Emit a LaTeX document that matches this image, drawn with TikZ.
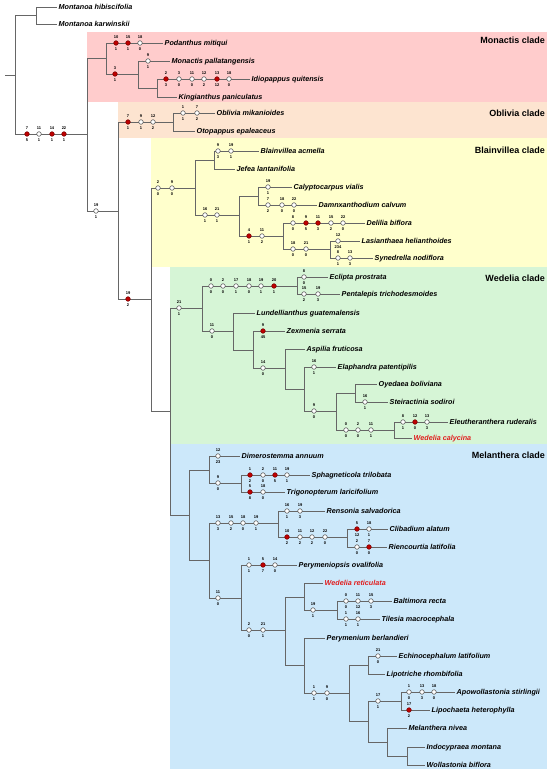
\documentclass[tikz,border=0pt]{standalone}
\usepackage{fontspec}
\setmainfont{Liberation Sans}

\definecolor{cladepink}{RGB}{255,204,204}
\definecolor{cladepeach}{RGB}{253,228,208}
\definecolor{cladeyellow}{RGB}{255,255,204}
\definecolor{cladegreen}{RGB}{214,245,214}
\definecolor{cladeblue}{RGB}{204,232,250}
\definecolor{apored}{RGB}{192,0,0}
\definecolor{wred}{RGB}{225,30,30}

% character marks along one branch: name, y, list of x/above/below/style
\newcommand{\charmarks}[3]{%
  \foreach \mx/\mt/\mb/\ms [count=\mi] in {#3}
    \node[\ms, label={[num]above:\mt}, label={[num]below:\mb}] (#1-\mi) at (\mx,#2) {};%
}

\begin{document}
\begin{tikzpicture}[
        x=1pt, y=-1pt,
        branch/.style={draw=black!60, line width=0.8pt},
        taxon/.style={
            anchor=west,
            inner sep=1.5pt,
            font=\fontsize{7.2}{8}\selectfont\bfseries\itshape,
            text height=5.2pt,
            text depth=1.2pt
        },
        clade/.style={anchor=east, inner sep=0pt, font=\fontsize{9}{10}\selectfont\bfseries},
        num/.style={inner sep=0.4pt, label distance=1.6pt, font=\fontsize{4}{4}\selectfont\bfseries},
        hom/.style={circle, draw=black!70, fill=white, line width=0.5pt, minimum size=4.6pt, inner sep=0pt},
        apo/.style={hom, draw=apored!60!black, fill=apored}
    ]

    \useasboundingbox (0,0) rectangle (550,774);

    % clade backgrounds
    \fill[cladepink] (87,32) rectangle (547,102);
    \fill[cladepeach] (118,102) rectangle (547,138);
    \fill[cladeyellow] (151,138) rectangle (547,267);
    \fill[cladegreen] (170,267) rectangle (547,444);
    \fill[cladeblue] (170,444) rectangle (547,769);

    \node[clade] (monactis) at (545,40) {Monactis clade};
    \node[clade] (oblivia) at (545,113) {Oblivia clade};
    \node[clade] (blainvillea) at (545,150) {Blainvillea clade};
    \node[clade] (wedelia) at (545,278) {Wedelia clade};
    \node[clade] (melanthera) at (545,455) {Melanthera clade};

    % internal nodes
    \coordinate (stub) at (5,75);
    \coordinate (root) at (15,75);
    \coordinate (mon) at (36,15.5);
    \coordinate (ing) at (87,134);
    \coordinate (mnc) at (106,58.5);
    \coordinate (mnc2) at (138,74);
    \coordinate (idk) at (157,88);
    \coordinate (n19) at (118,211);
    \coordinate (obl) at (173,122);
    \coordinate (bw) at (151,299);
    \coordinate (bla) at (195,188);
    \coordinate (bla1) at (214,160);
    \coordinate (bla2) at (239,215);
    \coordinate (cd) at (258,196);
    \coordinate (dls) at (283,236);
    \coordinate (ls) at (330,249);
    \coordinate (wm) at (170,411);
    \coordinate (wed) at (202,308);
    \coordinate (ep) at (297,286);
    \coordinate (lz) at (233,331);
    \coordinate (za) at (253,350);
    \coordinate (ae) at (285,368);
    \coordinate (el) at (304,389);
    \coordinate (oy) at (336,411);
    \coordinate (os) at (355,393);
    \coordinate (ew) at (394,430);
    \coordinate (mel) at (189,515);
    \coordinate (dst) at (209,470);
    \coordinate (stg) at (241,483);
    \coordinate (mb) at (209,560);
    \coordinate (rc) at (278,523);
    \coordinate (cr) at (347,537);
    \coordinate (pw) at (241,598);
    \coordinate (wp) at (285,630);
    \coordinate (wbt) at (304,597);
    \coordinate (bt) at (337,610);
    \coordinate (pm) at (304,665);
    \coordinate (el2) at (349,693);
    \coordinate (elp) at (368,665);
    \coordinate (al) at (368,721);
    \coordinate (apl) at (401,701);
    \coordinate (miw) at (387,742);
    \coordinate (iw) at (407,756);

    % terminal taxa
    \node[taxon] (mhib) at (57,7) {Montanoa hibiscifolia};
    \node[taxon] (mkar) at (57,24) {Montanoa karwinskii};
    \node[taxon] (podm) at (163,43) {Podanthus mitiqui};
    \node[taxon] (monp) at (170,61) {Monactis pallatangensis};
    \node[taxon] (idiq) at (250,79) {Idiopappus quitensis};
    \node[taxon] (kinp) at (177,97) {Kingianthus paniculatus};
    \node[taxon] (oblm) at (215,113) {Oblivia mikanioides};
    \node[taxon] (otoe) at (195,131) {Otopappus epaleaceus};
    \node[taxon] (blaa) at (259,151) {Blainvillea acmella};
    \node[taxon] (jefl) at (235,169) {Jefea lantanifolia};
    \node[taxon] (calv) at (292,187) {Calyptocarpus vialis};
    \node[taxon] (damc) at (317,205) {Damnxanthodium calvum};
    \node[taxon] (delb) at (365,223) {Delilia biflora};
    \node[taxon] (lash) at (360,241) {Lasianthaea helianthoides};
    \node[taxon] (synn) at (373,258) {Synedrella nodiflora};
    \node[taxon] (eclp) at (328,277) {Eclipta prostrata};
    \node[taxon] (pent) at (340,294) {Pentalepis trichodesmoides};
    \node[taxon] (lung) at (255,313) {Lundellianthus guatemalensis};
    \node[taxon] (zexs) at (285,331) {Zexmenia serrata};
    \node[taxon] (aspf) at (305,349) {Aspilia fruticosa};
    \node[taxon] (elap) at (336,367) {Elaphandra patentipilis};
    \node[taxon] (oyeb) at (377,384) {Oyedaea boliviana};
    \node[taxon] (stes) at (388,402) {Steiractinia sodiroi};
    \node[taxon] (eler) at (448,422) {Eleutheranthera ruderalis};
    \node[taxon, text=wred] (wcal) at (412,438) {Wedelia calycina};
    \node[taxon] (dima) at (240,456) {Dimerostemma annuum};
    \node[taxon] (spht) at (310,475) {Sphagneticola trilobata};
    \node[taxon] (tril) at (285,492) {Trigonopterum laricifolium};
    \node[taxon] (rens) at (325,511) {Rensonia salvadorica};
    \node[taxon] (clia) at (388,529) {Clibadium alatum};
    \node[taxon] (rinl) at (387,547) {Riencourtia latifolia};
    \node[taxon] (pero) at (297,565) {Perymeniopsis ovalifolia};
    \node[taxon, text=wred] (wret) at (323,583) {Wedelia reticulata};
    \node[taxon] (balr) at (392,601) {Baltimora recta};
    \node[taxon] (tilm) at (380,619) {Tilesia macrocephala};
    \node[taxon] (perb) at (325,638) {Perymenium berlandieri};
    \node[taxon] (echl) at (397,656) {Echinocephalum latifolium};
    \node[taxon] (lipr) at (385,674) {Lipotriche rhombifolia};
    \node[taxon] (apos) at (455,692) {Apowollastonia stirlingii};
    \node[taxon] (liph) at (430,710) {Lipochaeta heterophylla};
    \node[taxon] (meln) at (407,728) {Melanthera nivea};
    \node[taxon] (indm) at (425,747) {Indocypraea montana};
    \node[taxon] (wolb) at (425,765) {Wollastonia biflora};

    % branches
    \draw[branch] (stub) -- (root);
    \foreach \p/\c in {root/mon, mon/mhib.west, mon/mkar.west, root/ing,
        ing/mnc, mnc/podm.west, mnc/mnc2, mnc2/monp.west, mnc2/idk, idk/idiq.west, idk/kinp.west,
        ing/n19, n19/obl, obl/oblm.west, obl/otoe.west, n19/bw,
        bw/bla, bla/bla1, bla1/blaa.west, bla1/jefl.west, bla/bla2, bla2/cd, cd/calv.west, cd/damc.west,
        bla2/dls, dls/delb.west, dls/ls, ls/lash.west, ls/synn.west,
        bw/wm, wm/wed, wed/ep, ep/eclp.west, ep/pent.west, wed/lz, lz/lung.west, lz/za, za/zexs.west,
        za/ae, ae/aspf.west, ae/el, el/elap.west, el/oy, oy/os, os/oyeb.west, os/stes.west,
        oy/ew, ew/eler.west, ew/wcal.west,
        wm/mel, mel/dst, dst/dima.west, dst/stg, stg/spht.west, stg/tril.west,
        mel/mb, mb/rc, rc/rens.west, rc/cr, cr/clia.west, cr/rinl.west,
        mb/pw, pw/pero.west, pw/wp, wp/wbt, wbt/wret.west, wbt/bt, bt/balr.west, bt/tilm.west,
        wp/pm, pm/perb.west, pm/el2, el2/elp, elp/echl.west, elp/lipr.west,
        el2/al, al/apl, apl/apos.west, apl/liph.west, al/miw, miw/meln.west, miw/iw,
        iw/indm.west, iw/wolb.west}
        \draw[branch] (\p) |- (\c);

    % character changes
    \charmarks{ing}{134}{27/7/5/apo, 39/11/1/hom, 52/14/1/apo, 64/22/1/apo}
    \charmarks{podm}{43}{116/10/1/apo, 128/15/1/apo, 140/18/0/hom}
    \charmarks{mnc2}{74}{115/3/1/apo}
    \charmarks{monp}{61}{148/9/1/hom}
    \charmarks{idiq}{79}{166/2/3/apo, 179/3/0/hom, 192/11/0/hom, 204/12/2/hom, 217/13/12/apo, 229/18/0/hom}
    \charmarks{n19}{211}{96/19/1/hom}
    \charmarks{obl}{122}{128/7/1/apo, 141/9/1/hom, 153/12/2/hom}
    \charmarks{oblm}{113}{183/1/1/hom, 197/7/2/hom}
    \charmarks{bw}{299}{128/19/2/apo}
    \charmarks{bla}{188}{158/2/0/hom, 172/9/0/hom}
    \charmarks{blaa}{151}{218/9/3/hom, 231/19/1/hom}
    \charmarks{bla2}{215}{205/16/1/hom, 217/21/1/hom}
    \charmarks{calv}{187}{268/19/1/hom}
    \charmarks{damc}{205}{268/7/2/hom, 282/18/0/hom, 294/22/0/hom}
    \charmarks{dls}{236}{249/4/1/apo, 262/11/2/hom}
    \charmarks{delb}{223}{293/8/0/hom, 306/9/5/apo, 318/11/3/apo, 331/15/2/hom, 343/22/0/hom}
    \charmarks{ls}{249}{293/18/0/hom, 306/21/0/hom}
    \charmarks{lash}{241}{338/12/234/hom}
    \charmarks{synn}{258}{338/8/1/hom, 350/13/3/hom}
    \charmarks{wed}{308}{179/21/1/hom}
    \charmarks{ep}{286}{211/0/0/hom, 223/2/0/hom, 236/17/1/hom, 249/18/0/hom, 261/19/1/hom, 274/20/1/apo}
    \charmarks{eclp}{277}{304/8/0/hom}
    \charmarks{pent}{294}{304/15/2/hom, 318/19/3/hom}
    \charmarks{lz}{331}{212/11/0/hom}
    \charmarks{zexs}{331}{263/9/45/apo}
    \charmarks{ae}{368}{263/14/0/hom}
    \charmarks{elap}{367}{314/16/1/hom}
    \charmarks{oy}{411}{314/9/0/hom}
    \charmarks{stes}{402}{365/16/1/hom}
    \charmarks{ew}{430}{346/0/0/hom, 358/2/0/hom, 371/11/1/hom}
    \charmarks{eler}{422}{403/8/1/hom, 415/12/0/apo, 427/13/3/hom}
    \charmarks{dima}{456}{218/12/23/hom}
    \charmarks{stg}{483}{218/9/0/hom}
    \charmarks{spht}{475}{250/1/2/apo, 263/2/0/hom, 275/11/5/apo, 287/19/1/hom}
    \charmarks{tril}{492}{250/5/8/apo, 263/18/0/hom}
    \charmarks{rc}{523}{218/13/3/hom, 231/15/2/hom, 243/18/0/hom, 256/19/1/hom}
    \charmarks{rens}{511}{287/16/1/hom, 300/19/3/hom}
    \charmarks{cr}{537}{287/10/2/apo, 300/11/2/hom, 312/12/2/hom, 325/22/0/hom}
    \charmarks{clia}{529}{357/5/12/apo, 369/18/1/hom}
    \charmarks{rinl}{547}{357/2/0/hom, 369/7/0/apo}
    \charmarks{pw}{598}{218/11/0/hom}
    \charmarks{pero}{565}{249/1/1/hom, 263/5/7/apo, 275/14/0/hom}
    \charmarks{wp}{630}{249/2/0/hom, 263/21/1/hom}
    \charmarks{bt}{610}{313/19/1/hom}
    \charmarks{balr}{601}{346/0/0/hom, 358/11/12/hom, 371/15/3/hom}
    \charmarks{tilm}{619}{346/1/1/hom, 358/16/1/hom}
    \charmarks{el2}{693}{314/1/1/hom, 327/9/0/hom}
    \charmarks{echl}{656}{378/21/0/hom}
    \charmarks{apl}{701}{378/17/1/hom}
    \charmarks{apos}{692}{409/1/0/hom, 422/13/3/hom, 434/18/0/hom}
    \charmarks{liph}{710}{409/17/2/apo}

\end{tikzpicture}
\end{document}
